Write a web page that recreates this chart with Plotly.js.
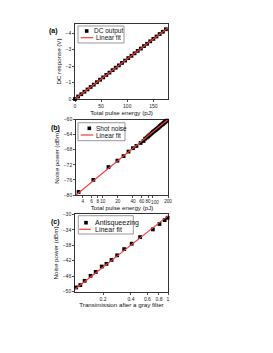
<!DOCTYPE html>
<html>
<head>
<meta charset="utf-8">
<script src="https://cdn.plot.ly/plotly-3.0.1.min.js"></script>
<style>html,body{margin:0;padding:0;background:#fff;}#chart{width:273px;height:353px;}</style>
</head>
<body>
<div id="chart"></div>
<script>
// Panel (a): DC response vs total pulse energy
const aEnergy = [0, 6, 12, 18, 24, 30, 36, 42, 48, 54, 60, 66, 72, 78, 84, 90, 96, 102, 108, 114, 120, 126, 132, 138, 144, 150, 156, 162, 168, 174];
const aDC = [0, -0.15, -0.29, -0.44, -0.58, -0.73, -0.87, -1.02, -1.17, -1.31, -1.46, -1.60, -1.75, -1.90, -2.04, -2.19, -2.33, -2.48, -2.62, -2.77, -2.92, -3.06, -3.21, -3.35, -3.50, -3.65, -3.79, -3.94, -4.08, -4.23];
const aFitX = [0, 178];
const aFitY = [0, -4.33];

// Panel (b): shot noise power vs total pulse energy (log x)
const bEnergy = [3.3, 6.5, 13, 19.6, 26, 32.6, 40, 47, 57, 65, 70, 75, 80, 85, 90, 95, 100, 105, 110, 115, 120, 125, 130, 135, 140, 145, 150, 155, 160, 165, 170, 175, 180, 185, 190];
const bNoise = [-79.2, -76.0, -72.6, -70.9, -69.7, -68.5, -67.6, -67.0, -66.2, -65.7, -65.1, -64.8, -64.5, -64.2, -63.9, -63.6, -63.3, -63.1, -62.9, -62.7, -62.5, -62.3, -62.1, -61.9, -61.7, -61.5, -61.4, -61.2, -61.1, -60.9, -60.8, -60.6, -60.5, -60.4, -60.3];
const bFitX = [2.93, 200];
const bFitY = [-80, -60];

// Panel (c): antisqueezing noise power vs transmission (log x)
const cTrans = [0.103, 0.114, 0.127, 0.147, 0.167, 0.194, 0.218, 0.247, 0.284, 0.338, 0.407, 0.501, 0.687, 0.81, 0.92, 0.99];
const cNoise = [-48.9, -48.3, -47.2, -45.9, -44.9, -43.5, -42.8, -41.8, -40.6, -39.0, -37.6, -35.9, -33.9, -32.5, -31.5, -30.9];
const cFitX = [0.1, 1];
const cFitY = [-49.4, -30.4];

const aXTicks = [0, 50, 100, 150];
const aYTicks = [-4, -3, -2, -1, 0];
const bXTicks = [4, 6, 8, 10, 20, 40, 60, 80, 200];
const bXTicksCrowded = [100]; // drawn on an overlay axis so its label can be nudged right
const bYTicks = [-80, -76, -72, -68, -64, -60];
const cXTicks = [0.2, 0.4, 0.6, 0.8, 1];
const cYTicks = [-50, -46, -42, -38, -34, -30];

const W = 273, H = 353;
const px = x => x / W;
const py = y => 1 - y / H;

const FONT = 'Liberation Sans, Arial, sans-serif';
const RED = '#f23b3b';

function mk(x, y, xa, ya, name) {
  return {x: x, y: y, xaxis: xa, yaxis: ya, mode: 'markers', type: 'scatter', name: name,
    marker: {symbol: 'square', size: 3.8, color: '#000'}, cliponaxis: false, showlegend: false};
}
function ln(x, y, xa, ya) {
  return {x: x, y: y, xaxis: xa, yaxis: ya, mode: 'lines', type: 'scatter', name: 'Linear fit',
    line: {color: RED, width: 1.2}, showlegend: false};
}

const data = [
  mk(aEnergy, aDC, 'x', 'y', 'DC output'), ln(aFitX, aFitY, 'x', 'y'),
  mk(bEnergy, bNoise, 'x2', 'y2', 'Shot noise'), ln(bFitX, bFitY, 'x2', 'y2'),
  mk(cTrans, cNoise, 'x3', 'y3', 'Antisqueezing'), ln(cFitX, cFitY, 'x3', 'y3'),
  {x: [], y: [], xaxis: 'x4', yaxis: 'y2', type: 'scatter', mode: 'markers', showlegend: false, hoverinfo: 'skip'}
];

function axisBase(extra) {
  return Object.assign({
    showline: true, mirror: true, linecolor: '#000', linewidth: 0.8,
    ticks: 'outside', ticklen: 2, tickwidth: 0.7, tickcolor: '#000',
    showgrid: false, zeroline: false, fixedrange: true, tickangle: 0,
    tickfont: {family: FONT, size: 5, color: '#222'}
  }, extra);
}

const titleFont = {family: FONT, size: 6.2, color: '#111'};
const bRange = [Math.log10(2.93), Math.log10(200)];

const layout = {
  width: W, height: H,
  margin: {l: 0, r: 0, t: 0, b: 0},
  paper_bgcolor: '#fff', plot_bgcolor: '#fff',
  showlegend: false,
  font: {family: FONT, color: '#111'},
  xaxis: axisBase({domain: [px(75), px(168)], anchor: 'y', range: [0, 178], tickvals: aXTicks,
    title: {text: 'Total pulse energy (pJ)', font: titleFont, standoff: 2}}),
  yaxis: axisBase({domain: [py(99), py(24)], anchor: 'x', range: [0, -4.55], tickvals: aYTicks,
    title: {text: 'DC response (V)', font: titleFont, standoff: 3}}),
  xaxis2: axisBase({domain: [px(76), px(168)], anchor: 'y2', type: 'log', range: bRange,
    tickvals: bXTicks, ticktext: bXTicks.map(String), tickfont: {family: FONT, size: 4.6, color: '#222'},
    title: {text: 'Total pulse energy (pJ)', font: titleFont, standoff: 2}}),
  xaxis4: axisBase({overlaying: 'x2', anchor: 'y2', side: 'bottom', type: 'log', range: bRange,
    showline: false, mirror: false, tickvals: bXTicksCrowded, ticktext: bXTicksCrowded.map(String),
    ticklabelshift: 2, tickfont: {family: FONT, size: 4.6, color: '#222'}}),
  yaxis2: axisBase({domain: [py(195), py(119.5)], anchor: 'x2', range: [-80, -60], tickvals: bYTicks,
    title: {text: 'Noise power (dBm)', font: titleFont, standoff: 3}}),
  xaxis3: axisBase({domain: [px(75), px(168)], anchor: 'y3', type: 'log', range: [-1, 0],
    tickvals: cXTicks, ticktext: cXTicks.map(String),
    title: {text: 'Transimission after a gray filter', font: titleFont, standoff: 2}}),
  yaxis3: axisBase({domain: [py(291.7), py(214.3)], anchor: 'x3', range: [-50, -30], tickvals: cYTicks,
    title: {text: 'Noise power (dBm)', font: titleFont, standoff: 3}}),
  shapes: [],
  annotations: []
};

// Panel labels
[['(a)', 53, 30.5], ['(b)', 55, 127.5], ['(c)', 55, 221.5]].forEach(p => {
  layout.annotations.push({text: '<b>' + p[0] + '</b>', xref: 'paper', yref: 'paper', x: px(p[1]), y: py(p[2]),
    xanchor: 'center', yanchor: 'middle', showarrow: false, font: {family: FONT, size: 7, color: '#000'}});
});

// Legend boxes (drawn in pixel positions of the figure)
function legend(box, markerPos, label1, linePos, fs) {
  layout.shapes.push({type: 'rect', xref: 'paper', yref: 'paper', x0: px(box[0]), x1: px(box[2]), y0: py(box[3]), y1: py(box[1]),
    line: {color: '#555', width: 0.6}, fillcolor: 'rgba(255,255,255,0)'});
  const s = 1.8;
  layout.shapes.push({type: 'rect', xref: 'paper', yref: 'paper', x0: px(markerPos[0] - s), x1: px(markerPos[0] + s),
    y0: py(markerPos[1] + s), y1: py(markerPos[1] - s), line: {width: 0}, fillcolor: '#000'});
  layout.shapes.push({type: 'line', xref: 'paper', yref: 'paper', x0: px(linePos[0]), x1: px(linePos[1]),
    y0: py(linePos[2]), y1: py(linePos[2]), line: {color: RED, width: 1.2}});
  layout.annotations.push({text: label1, xref: 'paper', yref: 'paper', x: px(markerPos[2]), y: py(markerPos[1]),
    xanchor: 'left', yanchor: 'middle', showarrow: false, font: {family: FONT, size: fs, color: '#111'}});
  layout.annotations.push({text: 'Linear fit', xref: 'paper', yref: 'paper', x: px(linePos[3]), y: py(linePos[2]),
    xanchor: 'left', yanchor: 'middle', showarrow: false, font: {family: FONT, size: fs, color: '#111'}});
}
legend([78, 26, 124, 43], [86.7, 31, 91.5], 'DC output', [80.7, 93.3, 37.7, 94], 6.5);
legend([78, 122.7, 125, 140.7], [89.3, 128.3, 93.5], 'Shot noise', [80.7, 93.3, 135, 94], 6.5);
legend([78.3, 215.7, 133.3, 234], [86, 222.7, 92.5], 'Antisqueezing', [79.3, 90.7, 229.3, 92.5], 7);

Plotly.newPlot('chart', data, layout, {displayModeBar: false, staticPlot: true});
</script>
</body>
</html>
